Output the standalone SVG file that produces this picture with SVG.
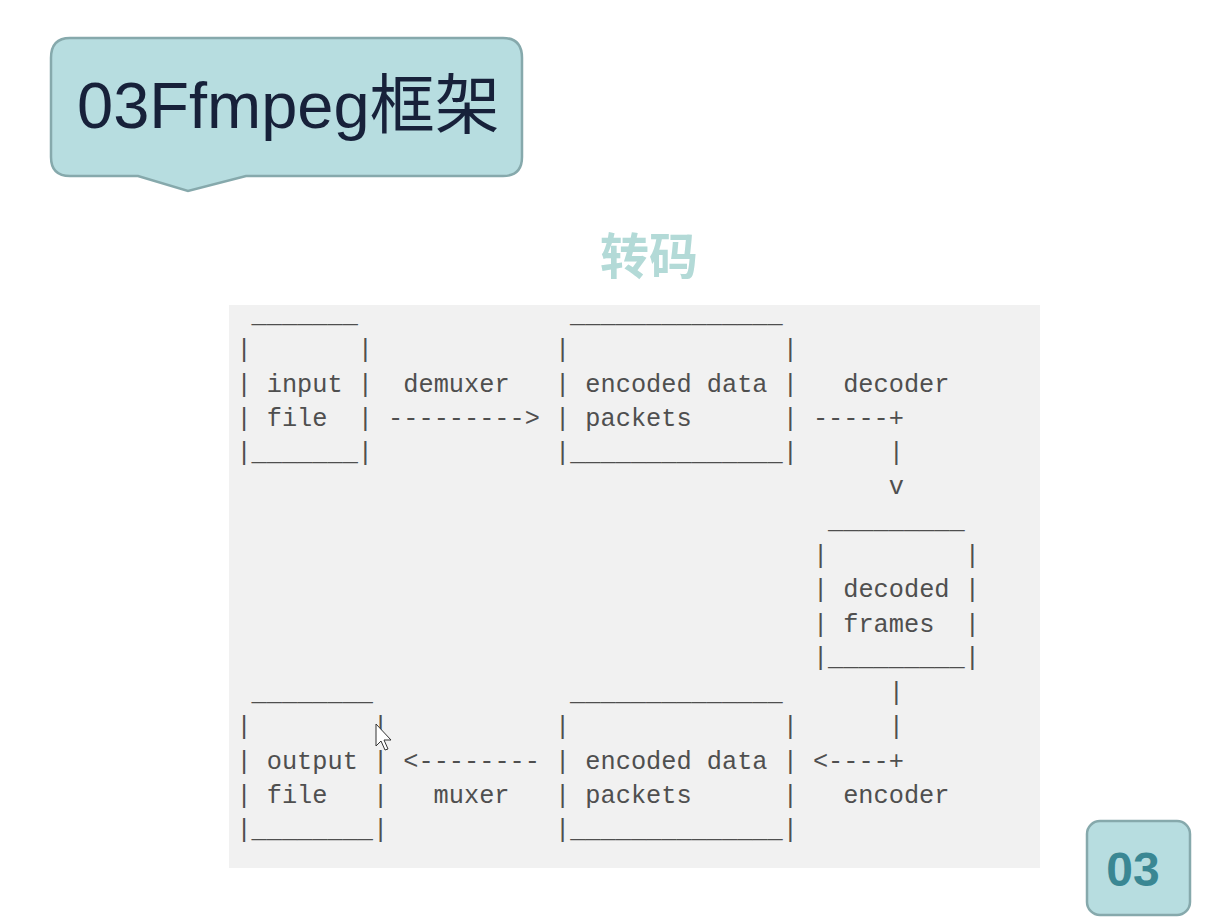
<svg xmlns="http://www.w3.org/2000/svg" width="1206" height="919" viewBox="0 0 1206 919">
<style>
.a{font-family:"Liberation Mono","DejaVu Sans Mono",monospace;font-size:25.3px;fill:#4f4f4f;white-space:pre}
.tag{fill:#b7dde0;stroke:#86a9ac;stroke-width:2.5}
</style>
<rect width="1206" height="919" fill="#ffffff"/>
<g id="title">
<path class="tag" d="M70,38 H503 Q522,38 522,58 V157 Q522,176 503,176 H246 L188,191 L138,176 H70 Q51,176 51,157 V58 Q51,38 70,38 Z"/>
<text x="77" y="128" font-family="Liberation Sans,'Noto Sans CJK SC',sans-serif" font-size="65" fill="#17213a">03Ffmpeg框架</text>
</g>
<text id="subtitle" x="649" y="274" text-anchor="middle" font-family="'Noto Sans CJK SC',sans-serif" font-weight="bold" font-size="49" fill="#b3dad7">转码</text>
<rect id="panel" x="229" y="305" width="811" height="563" fill="#f1f1f1"/>
<g id="input-file" class="a">
<text x="251.6" y="322.4" class="a">_______</text>
<text x="236.4" y="356.7" class="a">|       |</text>
<text x="236.4" y="391.5" class="a">| input |</text>
<text x="236.4" y="425.8" class="a">| file  |</text>
<text x="236.4" y="459.6" class="a">|_______|</text>
</g>
<g id="encoded-top">
<text x="570.1" y="322.4" class="a">______________</text>
<text x="555" y="356.7" class="a">|              |</text>
<text x="555" y="391.5" class="a">| encoded data |</text>
<text x="555" y="425.8" class="a">| packets      |</text>
<text x="555" y="459.6" class="a">|______________|</text>
</g>
<g id="decoded-frames">
<text x="828.0" y="528.2" class="a">_________</text>
<text x="812.9" y="562.5" class="a">|         |</text>
<text x="812.9" y="597.3" class="a">| decoded |</text>
<text x="812.9" y="631.6" class="a">| frames  |</text>
<text x="812.9" y="665.4" class="a">|_________|</text>
</g>
<g id="encoded-bottom">
<text x="570.1" y="699.7" class="a">______________</text>
<text x="555" y="734" class="a">|              |</text>
<text x="555" y="768.8" class="a">| encoded data |</text>
<text x="555" y="803.1" class="a">| packets      |</text>
<text x="555" y="836.9" class="a">|______________|</text>
</g>
<g id="output-file">
<text x="251.6" y="699.7" class="a">________</text>
<text x="236.4" y="734" class="a">|        |</text>
<text x="236.4" y="768.8" class="a">| output |</text>
<text x="236.4" y="803.1" class="a">| file   |</text>
<text x="236.4" y="836.9" class="a">|________|</text>
</g>
<g id="connectors">
<text x="403.3" y="391.5" class="a">demuxer</text>
<text x="388.1" y="425.8" class="a">---------&gt;</text>
<text x="843.2" y="391.5" class="a">decoder</text>
<text x="812.9" y="425.8" class="a">-----+</text>
<text x="888.7" y="459.6" class="a">|</text>
<text x="888.7" y="494.4" class="a">v</text>
<text x="888.7" y="699.7" class="a">|</text>
<text x="888.7" y="734" class="a">|</text>
<text x="812.9" y="768.8" class="a">&lt;----+</text>
<text x="843.2" y="803.1" class="a">encoder</text>
<text x="403.3" y="768.8" class="a">&lt;--------</text>
<text x="433.6" y="803.1" class="a">muxer</text>
</g>
<path id="cursor" d="M376,724 V746 L381,741 L385,750 L388,749 L384,740 L391,740 Z" fill="#ffffff" stroke="#333" stroke-width="1"/>
<g id="page-badge">
<rect class="tag" x="1087" y="821" width="103" height="94" rx="13"/>
<text x="1133" y="886" text-anchor="middle" font-family="Liberation Sans,sans-serif" font-weight="bold" font-size="48" fill="#3a8793">03</text>
</g>
</svg>
